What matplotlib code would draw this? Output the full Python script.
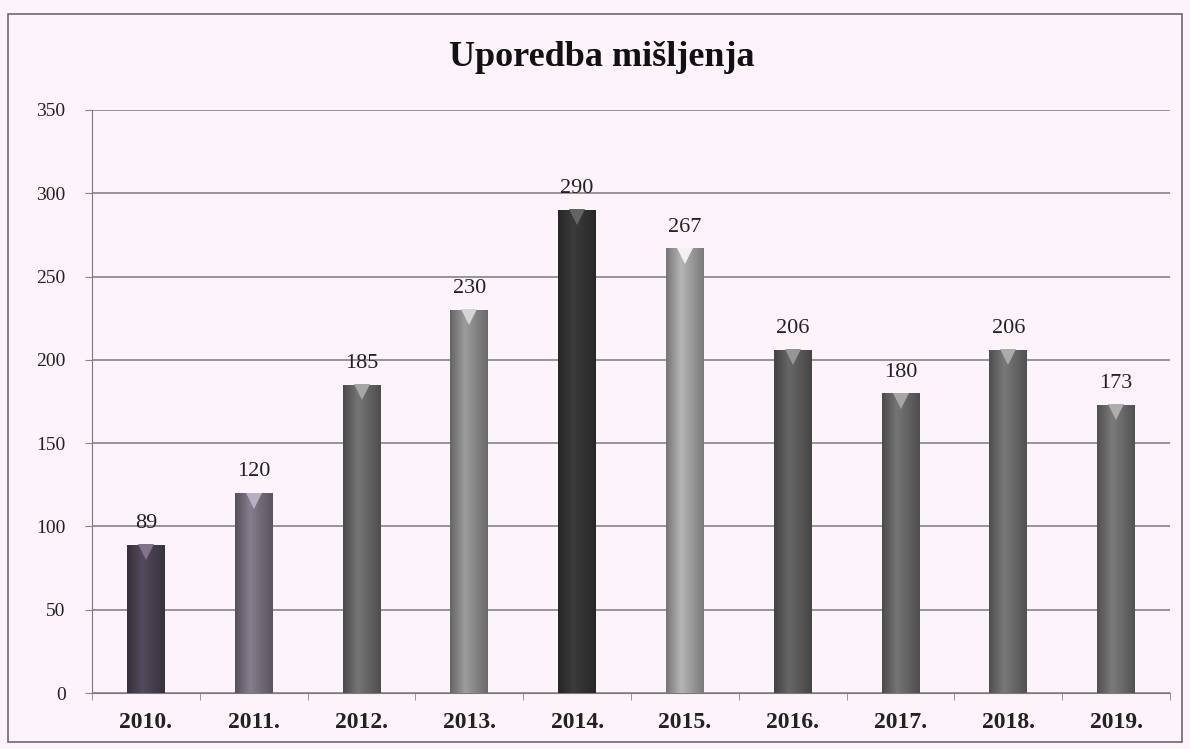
import numpy as np
import matplotlib.pyplot as plt
import matplotlib.colors as mcolors
from matplotlib.patches import Rectangle

years = ['2010.', '2011.', '2012.', '2013.', '2014.', '2015.', '2016.', '2017.', '2018.', '2019.']
values = [89, 120, 185, 230, 290, 267, 206, 180, 206, 173]
bar_colors = ['#4a4252', '#76707e', '#686868', '#8c8c8c', '#353535',
              '#a2a2a2', '#5c5c5c', '#686868', '#6c6c6c', '#6e6e6e']

plt.rcParams['font.family'] = ['Liberation Serif', 'DejaVu Serif']
bg = '#fcf3fb'

fig = plt.figure(figsize=(11.9, 7.49), dpi=100, facecolor=bg)
ax = fig.add_axes([92 / 1190, 1 - 693 / 749, (1170 - 92) / 1190, (693 - 110) / 749])
ax.set_facecolor(bg)

# outer chart border
fig.patches.append(Rectangle((8 / 1190, 1 - 742 / 749), 1174 / 1190, 728 / 749,
                             transform=fig.transFigure, fill=False,
                             edgecolor='#6a6a6a', lw=1.2))

x = np.arange(len(years))
bars = ax.bar(x, values, width=0.35, color=bar_colors, zorder=2)

# soft cylinder shading inside each bar
shade = np.concatenate([np.linspace(0.72, 1.12, 40), np.linspace(1.12, 0.75, 60)])
for rect, col in zip(bars, bar_colors):
    rgb = np.array(mcolors.to_rgb(col))
    grad = np.clip(rgb[None, :] * shade[:, None], 0, 1)
    img = ax.imshow(grad[None, :, :], aspect='auto', zorder=3,
                    extent=[rect.get_x(), rect.get_x() + rect.get_width(), 0, rect.get_height()])
    img.set_clip_path(rect)
    light = np.clip(rgb * 1.3 + 0.12, 0, 1)
    ax.plot(rect.get_x() + rect.get_width() / 2, rect.get_height() - 4.5, marker='v',
            markersize=11, color=light, markeredgewidth=0, zorder=4)
    ax.text(rect.get_x() + rect.get_width() / 2, rect.get_height() + 7, str(rect.get_height()),
            ha='center', va='bottom', fontsize=16, color='#222222', zorder=5)

ax.set_ylim(0, 350)
ax.set_xlim(-0.5, len(years) - 0.5)
ax.set_yticks(np.arange(0, 351, 50))
ax.yaxis.grid(True, color='#7a7a7a', lw=1.1, zorder=0)
ax.set_axisbelow(True)

ax.set_xticks(x)
ax.set_xticklabels(years, fontsize=17, fontweight='bold', color='#222222')
ax.set_xticks(np.arange(-0.5, len(years), 1), minor=True)
ax.tick_params(axis='x', which='major', length=0, pad=14)
ax.tick_params(axis='x', which='minor', length=5, color='#888888')
ax.tick_params(axis='y', labelsize=14, length=5, color='#888888', pad=14, labelcolor='#222222')

for s in ['top', 'right']:
    ax.spines[s].set_visible(False)
ax.spines['left'].set_color('#7a7a7a')
ax.spines['bottom'].set_color('#7a7a7a')

fig.text(602 / 1190, 1 - 58 / 749, 'Uporedba mišljenja', ha='center', va='center',
         fontsize=26, fontweight='bold', color='#111111')

fig.savefig('out.png', dpi=100, facecolor=bg)
